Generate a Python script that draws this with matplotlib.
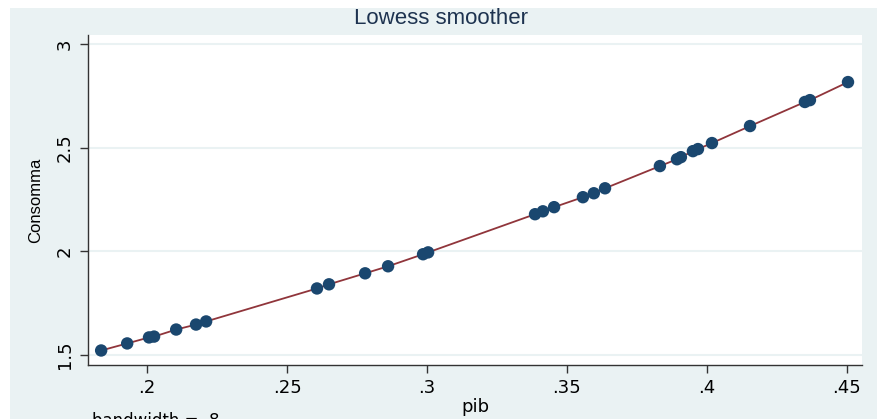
import matplotlib.pyplot as plt
from matplotlib.patches import Rectangle

# pib values and consumption
pib = [0.1836, 0.1929, 0.2007, 0.2025, 0.2104, 0.2175, 0.2211, 0.2607, 0.2650,
       0.2779, 0.2861, 0.2986, 0.3004, 0.3386, 0.3414, 0.3454, 0.3557, 0.3596,
       0.3636, 0.3832, 0.3893, 0.3907, 0.3950, 0.3968, 0.4018, 0.4154, 0.4350,
       0.4368, 0.4504]
consomma = [1.522, 1.556, 1.585, 1.589, 1.623, 1.647, 1.662, 1.821, 1.841,
            1.894, 1.928, 1.986, 1.995, 2.179, 2.193, 2.213, 2.261, 2.280,
            2.304, 2.411, 2.444, 2.454, 2.483, 2.493, 2.522, 2.604, 2.720,
            2.729, 2.816]
xticks = [0.2, 0.25, 0.3, 0.35, 0.4, 0.45]
xtick_labels = [".2", ".25", ".3", ".35", ".4", ".45"]
yticks = [1.5, 2, 2.5, 3]
ytick_labels = ["1.5", "2", "2.5", "3"]

bg = "#eaf2f3"
plt.rcParams['font.family'] = ['Liberation Sans', 'DejaVu Sans']
wide = ['DejaVu Sans']

fig = plt.figure(figsize=(8.77, 4.19), dpi=100)
fig.patch.set_facecolor("white")
fig.patches.append(Rectangle((10 / 877, 0), 1, (419 - 8) / 419,
                             transform=fig.transFigure, facecolor=bg,
                             edgecolor="none", zorder=-10))

W, H = 877, 419
ax = fig.add_axes([88 / W, (H - 365) / H, (862 - 88) / W, (365 - 35) / H])
ax.set_facecolor("white")

ax.plot(pib, consomma, color="#90353b", lw=1.3, zorder=2)
ax.scatter(pib, consomma, s=80, color="#1a476f", edgecolors="none", zorder=3)

ax.set_xlim(0.1789, 0.4554)
ax.set_ylim(1.452, 3.043)
ax.set_xticks(xticks)
ax.set_xticklabels(xtick_labels, fontsize=13, family=wide)
ax.set_yticks(yticks)
ax.set_yticklabels(ytick_labels, fontsize=13, family=wide, rotation=90,
                   va="center")
ax.tick_params(axis="both", length=6, width=1, color="#333333", pad=4)
ax.grid(axis="y", color=bg, lw=1.5)
ax.set_axisbelow(True)

for side in ("top", "right"):
    ax.spines[side].set_visible(False)
for side in ("left", "bottom"):
    ax.spines[side].set_color("#333333")
    ax.spines[side].set_linewidth(1)

ax.set_xlabel("pib", fontsize=13, family=wide, labelpad=1)
ax.set_ylabel("Consomma", fontsize=12, labelpad=9)
fig.text(441 / W, 1 - 18 / H, "Lowess smoother", ha="center", va="center",
         fontsize=16, color="#1e3350")
fig.text(92 / W, 1 - 412 / H, "bandwidth = .8", ha="left", va="top",
         fontsize=12, family=wide)

fig.savefig("out.png", dpi=100, facecolor=fig.get_facecolor())
